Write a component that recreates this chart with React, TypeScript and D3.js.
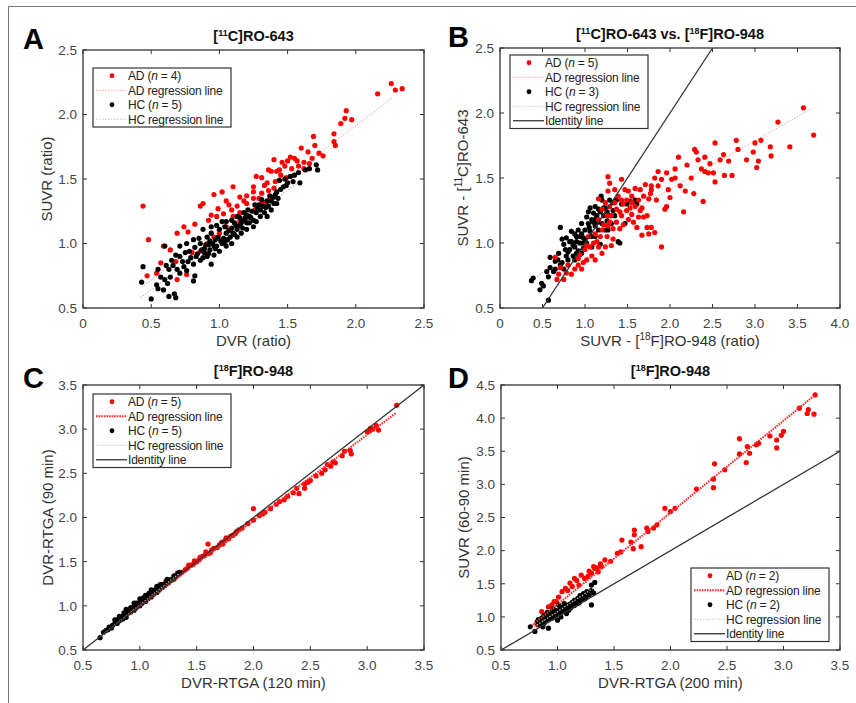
import React from "react";
import * as d3 from "d3";

type P = [number, number];

const FONT = "'Liberation Sans', Arial, Helvetica, sans-serif";

// ---------- Panel A : [11C]RO-643, SUVR vs DVR ----------
const aAD: P[] = [[2.26,2.24],[2.29,2.19],[2.34,2.2],[2.16,2.16],[1.93,2.03],[1.92,1.97],[1.97,1.96],[1.89,1.93],[1.84,1.85],[1.84,1.79],[1.85,1.76],[1.69,1.83],[1.7,1.76],[1.65,1.71],[1.6,1.74],[1.73,1.7],[1.55,1.66],[1.52,1.67],[1.5,1.64],[1.46,1.63],[1.4,1.65],[1.36,1.57],[1.38,1.56],[1.42,1.56],[1.44,1.57],[1.27,1.52],[1.31,1.51],[1.35,1.47],[1.4,1.43],[1.25,1.44],[1.1,1.44],[1.02,1.4],[0.96,1.38],[1.05,1.33],[1.15,1.36],[1.2,1.37],[1.25,1.4],[1.31,1.39],[0.86,1.29],[0.88,1.31],[0.94,1.22],[0.98,1.21],[1.03,1.23],[1.09,1.26],[1.13,1.29],[0.74,1.13],[0.77,1.09],[0.69,1.08],[0.82,1.15],[0.44,1.29],[0.48,1.03],[0.59,0.98],[0.64,0.95],[0.68,0.86],[0.57,0.85],[0.54,0.77],[0.47,0.75],[0.69,0.72],[0.76,0.76],[0.91,1.0],[0.96,1.05],[1.0,1.08],[1.05,1.13],[1.15,1.17],[1.2,1.2],[1.26,1.26],[1.31,1.31],[1.34,1.32],[1.37,1.35],[1.25,1.35],[1.2,1.31],[1.36,1.41],[1.15,1.24],[1.1,1.21],[1.44,1.49],[1.49,1.51],[1.58,1.6],[1.62,1.63],[1.68,1.66],[0.8,0.93],[0.86,0.94],[1.45,1.53],[1.53,1.58],[1.57,1.64],[1.62,1.58],[1.33,1.45],[1.18,1.33],[1.07,1.3],[0.99,1.27],[0.92,1.18],[1.29,1.35],[1.41,1.48],[1.48,1.6],[1.66,1.62],[1.76,1.68]];
const aHC: P[] = [[0.43,0.7],[0.44,0.82],[0.5,0.57],[0.55,0.65],[0.55,0.8],[0.54,0.68],[0.59,0.64],[0.63,0.59],[0.68,0.58],[0.67,0.61],[0.64,0.74],[0.62,0.69],[0.63,0.8],[0.66,0.83],[0.61,0.83],[0.6,0.98],[0.65,0.87],[0.71,0.77],[0.74,0.82],[0.76,0.79],[0.81,0.71],[0.82,0.75],[0.71,0.9],[0.75,0.93],[0.76,1.0],[0.81,0.84],[0.83,0.9],[0.86,0.87],[0.91,0.9],[0.94,0.84],[0.82,0.97],[0.86,1.0],[0.89,0.96],[0.93,0.95],[0.96,0.91],[0.98,0.98],[1.02,1.0],[0.91,1.05],[0.94,1.08],[0.99,1.05],[1.03,1.04],[1.05,1.08],[1.08,1.05],[1.0,1.11],[1.04,1.13],[1.09,1.12],[1.13,1.11],[1.11,1.16],[1.15,1.14],[1.18,1.18],[1.2,1.16],[1.22,1.21],[1.25,1.18],[1.27,1.24],[1.3,1.26],[1.32,1.29],[1.33,1.24],[1.35,1.33],[1.37,1.37],[1.4,1.36],[1.42,1.4],[1.43,1.35],[1.44,1.49],[1.48,1.5],[1.52,1.52],[1.55,1.53],[1.58,1.55],[1.59,1.47],[1.63,1.57],[1.66,1.58],[1.71,1.61],[1.72,1.57],[1.31,1.34],[1.26,1.3],[1.21,1.26],[1.18,1.24],[1.13,1.21],[1.09,1.18],[1.05,1.17],[1.15,1.2],[1.2,1.22],[1.22,1.16],[1.27,1.17],[1.16,1.08],[1.13,1.05],[1.09,1.0],[1.05,0.98],[1.0,0.94],[0.97,1.03],[0.93,1.02],[0.88,1.11],[0.85,1.04],[0.81,1.03],[0.78,0.94],[0.77,0.86],[0.68,0.91],[0.71,0.98],[1.35,1.21],[1.38,1.26],[1.42,1.31],[1.47,1.44],[1.49,1.45],[1.54,1.48],[0.94,1.13],[0.98,1.14],[1.02,1.17],[0.87,0.95],[0.92,0.99],[1.25,1.13],[1.2,1.11],[1.3,1.21],[1.36,1.29],[1.4,1.31],[0.84,0.92],[0.89,0.93],[0.9,0.99],[0.95,1.0],[0.97,0.96],[1.01,1.02],[1.04,1.01],[1.07,1.1],[1.1,1.08],[1.12,1.14],[1.16,1.16],[1.19,1.2],[1.23,1.2],[1.24,1.25],[1.28,1.27],[1.29,1.3],[1.34,1.28],[1.38,1.33],[1.41,1.38],[1.45,1.42],[1.5,1.47],[0.79,0.89],[0.73,0.86],[0.69,0.8],[0.6,0.72],[0.57,0.74],[1.06,1.03],[1.11,1.07],[1.17,1.12],[0.96,0.98],[0.92,0.92],[0.88,0.89]];
const aRegAD: P[] = [[0.43,0.66],[2.27,2.13]];
const aRegHC: P[] = [[0.42,0.58],[1.6,1.49]];
const aXTicks = [0, 0.5, 1, 1.5, 2, 2.5];
const aYTicks = [0.5, 1, 1.5, 2, 2.5];

// ---------- Panel B : [11C]RO-643 vs [18F]RO-948 ----------
const bAD: P[] = [[3.57,2.04],[3.69,1.83],[3.27,1.93],[3.41,1.74],[3.18,1.74],[3.19,1.67],[3.07,1.79],[3.0,1.77],[2.98,1.7],[3.04,1.63],[3.02,1.58],[2.9,1.64],[2.78,1.79],[2.8,1.72],[2.69,1.63],[2.73,1.52],[2.63,1.68],[2.59,1.64],[2.53,1.77],[2.47,1.61],[2.41,1.66],[2.37,1.57],[2.31,1.7],[2.33,1.64],[2.29,1.72],[2.41,1.55],[2.45,1.54],[2.51,1.54],[2.64,1.52],[2.53,1.47],[2.39,1.32],[2.28,1.38],[2.18,1.4],[2.16,1.24],[2.1,1.66],[2.06,1.57],[2.06,1.5],[2.12,1.44],[2.02,1.49],[1.96,1.54],[1.98,1.41],[1.9,1.49],[1.86,1.55],[1.82,1.5],[1.78,1.44],[1.77,1.38],[1.86,1.44],[1.71,1.45],[1.65,1.41],[1.69,1.36],[1.75,1.34],[1.78,1.41],[1.59,1.42],[1.55,1.36],[1.51,1.4],[1.43,1.49],[1.27,1.51],[1.29,1.46],[1.96,1.28],[1.94,1.26],[1.9,0.97],[1.82,1.08],[1.78,1.12],[1.73,1.12],[1.75,1.07],[1.67,1.06],[1.73,1.21],[1.63,1.2],[1.59,1.28],[1.55,1.22],[1.49,1.25],[1.43,1.33],[1.45,1.14],[1.41,1.11],[1.37,1.16],[1.33,1.03],[1.31,0.98],[1.24,0.97],[1.2,0.92],[1.16,0.97],[1.12,0.87],[1.08,0.9],[1.02,0.87],[0.96,0.8],[0.98,0.85],[0.92,0.83],[0.88,0.8],[0.84,0.76],[0.78,0.77],[0.8,0.83],[0.75,0.72],[0.69,0.76],[0.71,0.81],[0.67,0.72],[0.65,0.89],[1.35,1.31],[1.29,1.28],[1.24,1.31],[1.2,1.26],[1.26,1.21],[1.16,1.18],[1.2,1.1],[1.12,1.07],[1.14,1.01],[1.06,0.97],[1.0,0.95],[0.94,0.91],[1.04,1.05],[1.37,1.26],[1.49,1.33],[1.55,1.31],[1.63,1.33],[1.67,1.27],[1.69,1.2],[1.61,1.12],[1.51,1.18],[1.43,1.21],[1.31,1.21],[1.27,1.13],[1.33,1.11],[1.26,1.05],[1.18,1.05],[1.27,1.4],[1.35,1.41],[1.47,1.41],[1.16,1.34],[1.39,1.36],[1.45,1.3],[1.53,1.27],[1.41,1.24],[1.29,1.16],[1.22,1.14],[1.1,1.0],[1.02,0.98],[0.92,0.88],[1.57,1.16],[1.65,1.25],[1.84,1.33],[2.0,1.35],[2.25,1.5],[2.2,1.6]];
const bHC: P[] = [[0.57,0.56],[0.47,0.64],[0.37,0.71],[0.39,0.73],[0.49,0.69],[0.51,0.67],[0.57,0.74],[0.59,0.81],[0.65,0.8],[0.55,0.78],[0.71,1.12],[0.75,0.99],[0.78,0.9],[0.73,0.85],[0.69,0.92],[0.82,0.95],[0.84,1.01],[0.88,0.97],[0.9,1.05],[0.94,1.0],[0.98,1.04],[0.92,1.1],[1.0,1.1],[1.04,1.15],[0.96,1.15],[1.02,1.2],[1.08,1.18],[1.1,1.23],[1.06,1.27],[1.12,1.28],[1.16,1.26],[1.2,1.33],[1.19,1.36],[1.24,1.27],[1.29,1.33],[1.33,1.31],[1.37,1.33],[1.43,1.3],[1.49,1.3],[1.53,1.32],[1.61,1.3],[1.59,1.33],[1.12,1.13],[1.16,1.1],[1.06,1.09],[0.96,1.07],[0.88,1.07],[0.84,1.09],[0.78,1.04],[0.73,1.03],[0.77,0.95],[0.8,0.87],[0.86,0.9],[0.92,0.94],[0.98,0.96],[1.02,1.0],[1.08,1.05],[1.12,1.05],[1.2,1.15],[1.26,1.17],[1.29,1.21],[1.35,1.21],[1.41,1.0],[1.39,1.01],[1.47,1.15],[1.31,1.15],[1.24,1.1],[0.82,1.01],[0.9,1.01],[0.96,0.92],[0.88,0.87],[0.71,0.83],[0.65,0.86],[0.59,0.89],[0.75,0.8],[1.04,1.24],[1.14,1.21],[1.22,1.21],[1.27,1.1],[1.18,0.99],[1.08,0.97],[0.86,0.98],[0.94,1.05],[1.0,1.03],[1.05,1.12],[1.1,1.16],[1.15,1.16],[1.18,1.24],[1.22,1.27],[1.26,1.24],[0.8,0.93],[0.9,0.92],[0.97,1.0],[1.13,1.19],[1.33,1.25],[0.68,0.87],[0.63,0.78]];
const bRegAD: P[] = [[0.67,0.92],[3.68,2.04]];
const bRegHC: P[] = [[0.35,0.7],[1.62,1.33]];
const bIdentity: P[] = [[0.5,0.5],[2.5,2.5]];
const bXTicks = [0, 0.5, 1, 1.5, 2, 2.5, 3, 3.5, 4];
const bYTicks = [0.5, 1, 1.5, 2, 2.5];

// ---------- Panel C : [18F]RO-948 DVR 90 vs 120 min ----------
const cAD: P[] = [[0.95,0.98],[1.0,1.02],[1.02,1.06],[1.05,1.08],[1.08,1.1],[1.1,1.12],[1.12,1.15],[1.15,1.17],[1.18,1.2],[1.2,1.22],[1.22,1.24],[1.25,1.26],[1.27,1.3],[1.3,1.3],[1.32,1.33],[1.35,1.36],[1.37,1.38],[1.4,1.41],[1.42,1.43],[1.45,1.46],[1.47,1.47],[1.5,1.5],[1.52,1.52],[1.55,1.56],[1.57,1.57],[1.6,1.59],[1.6,1.7],[1.62,1.6],[1.65,1.65],[1.7,1.69],[1.72,1.72],[1.75,1.74],[1.78,1.76],[1.8,1.79],[1.82,1.8],[1.85,1.84],[1.9,1.88],[1.95,1.93],[2.0,1.97],[2.0,2.1],[2.05,2.02],[2.08,2.04],[2.1,2.06],[2.15,2.1],[2.2,2.15],[2.23,2.18],[2.27,2.2],[2.3,2.24],[2.35,2.28],[2.38,2.33],[2.4,2.27],[2.45,2.38],[2.48,2.4],[2.5,2.42],[2.45,2.33],[2.55,2.47],[2.6,2.5],[2.63,2.54],[2.65,2.6],[2.68,2.58],[2.7,2.63],[2.72,2.62],[2.78,2.7],[2.8,2.75],[2.85,2.76],[2.86,2.72],[3.0,2.97],[3.02,2.98],[3.03,3.01],[3.05,3.0],[3.1,2.99],[3.08,3.04],[3.26,3.27],[1.13,1.18],[1.23,1.28],[1.33,1.37],[1.43,1.46],[1.48,1.51],[1.53,1.55],[1.58,1.61],[1.63,1.63],[1.68,1.66],[1.73,1.7],[1.76,1.77],[1.84,1.82],[1.87,1.86]];
const cHC: P[] = [[0.65,0.64],[0.68,0.7],[0.7,0.72],[0.72,0.73],[0.73,0.76],[0.75,0.75],[0.76,0.78],[0.78,0.8],[0.8,0.8],[0.8,0.84],[0.82,0.83],[0.83,0.86],[0.85,0.85],[0.85,0.88],[0.87,0.9],[0.88,0.87],[0.9,0.92],[0.9,0.95],[0.92,0.93],[0.93,0.96],[0.95,0.95],[0.95,0.99],[0.97,0.98],[0.98,1.01],[1.0,1.0],[1.0,1.04],[1.02,1.03],[1.03,1.06],[1.05,1.05],[1.05,1.09],[1.07,1.08],[1.08,1.11],[1.1,1.1],[1.1,1.14],[1.12,1.13],[1.13,1.16],[1.15,1.15],[1.15,1.19],[1.17,1.18],[1.18,1.21],[1.2,1.21],[1.2,1.24],[1.22,1.23],[1.23,1.26],[1.25,1.26],[1.26,1.29],[1.28,1.29],[1.3,1.31],[1.3,1.34],[1.32,1.34],[1.34,1.37],[1.35,1.38],[0.88,0.96],[0.95,1.03],[1.0,1.08],[1.05,1.12],[1.1,1.18],[1.15,1.22],[0.78,0.84],[0.82,0.88],[0.86,0.92],[0.92,0.98],[0.97,1.03],[1.03,1.09],[1.08,1.14],[1.12,1.17],[1.18,1.24],[1.24,1.3]];
const cRegAD: P[] = [[0.9,0.9],[3.25,3.18]];
const cRegHC: P[] = [[0.65,0.65],[1.35,1.37]];
const cIdentity: P[] = [[0.5,0.5],[3.5,3.5]];
const cXTicks = [0.5, 1, 1.5, 2, 2.5, 3, 3.5];
const cYTicks = [0.5, 1, 1.5, 2, 2.5, 3, 3.5];

// ---------- Panel D : [18F]RO-948 SUVR vs DVR 200 min ----------
const dAD: P[] = [[3.28,4.35],[3.27,4.06],[3.21,4.07],[3.22,4.13],[3.14,4.15],[3.0,3.8],[2.98,3.74],[2.94,3.67],[2.94,3.55],[2.88,3.73],[2.78,3.62],[2.76,3.6],[2.7,3.47],[2.67,3.33],[2.68,3.57],[2.61,3.46],[2.61,3.69],[2.48,3.22],[2.39,3.31],[2.38,3.08],[2.38,2.95],[2.23,2.93],[2.04,2.64],[1.95,2.64],[2.0,2.59],[1.88,2.39],[1.85,2.34],[1.79,2.34],[1.8,2.29],[1.68,2.31],[1.68,2.24],[1.74,2.06],[1.67,2.03],[1.65,2.13],[1.57,2.16],[1.56,1.98],[1.53,1.96],[1.47,1.84],[1.39,1.76],[1.36,1.68],[1.33,1.73],[1.3,1.66],[1.32,1.76],[1.24,1.58],[1.21,1.63],[1.15,1.58],[1.11,1.51],[1.07,1.43],[1.01,1.3],[0.97,1.23],[0.92,1.15],[0.86,1.08],[0.82,0.88],[1.04,1.38],[1.19,1.48],[1.27,1.61],[1.13,1.46],[0.99,1.23],[0.89,1.03],[1.35,1.74],[1.38,1.8],[1.42,1.86],[1.28,1.69],[1.17,1.55],[1.09,1.4],[0.95,1.18]];
const dHC: P[] = [[0.76,0.85],[0.8,0.78],[0.82,0.92],[0.85,0.93],[0.86,0.98],[0.88,0.9],[0.9,1.0],[0.92,0.83],[0.9,0.95],[0.93,1.05],[0.95,0.98],[0.95,1.08],[0.97,1.02],[0.98,1.1],[1.0,1.05],[1.0,0.95],[1.02,1.12],[1.03,1.0],[1.05,1.08],[1.05,1.15],[1.07,1.12],[1.08,1.05],[1.1,1.18],[1.1,1.1],[1.12,1.14],[1.13,1.22],[1.15,1.17],[1.15,1.25],[1.17,1.2],[1.18,1.28],[1.2,1.24],[1.2,1.32],[1.22,1.27],[1.23,1.35],[1.25,1.3],[1.26,1.38],[1.28,1.33],[1.3,1.4],[1.32,1.36],[1.3,1.18],[0.88,1.02],[0.93,0.97],[0.98,1.0],[1.03,1.07],[1.08,1.16],[1.12,1.2],[0.84,0.88],[0.87,0.85],[0.96,1.12],[1.01,1.18],[1.06,1.2],[1.3,1.48],[1.33,1.52],[0.91,1.07],[0.99,1.06],[1.04,1.11],[1.09,1.13],[1.14,1.21],[1.19,1.21],[1.24,1.27],[0.83,0.96]];
const dRegAD: P[] = [[0.78,0.88],[3.28,4.35]];
const dRegHC: P[] = [[0.75,0.8],[1.33,1.45]];
const dIdentity: P[] = [[0.5,0.5],[3.5,3.5]];
const dXTicks = [0.5, 1, 1.5, 2, 2.5, 3, 3.5];
const dYTicks = [0.5, 1, 1.5, 2, 2.5, 3, 3.5, 4, 4.5];

const RED = "#ff0000";
const LIGHT_RED = "#f5a3a3";
const STRONG_RED = "#ff2a2a";
const LIGHT_GREY = "#c4c4c4";
const DARK = "#333333";

function fmt(v: number) {
  return v === 0 ? "0" : v.toFixed(1);
}

type LegendRow = { kind: "dot" | "line"; color: string; dash?: string; w?: number; label: React.ReactNode };

function Legend({ x, y, rows }: { x: number; y: number; rows: LegendRow[] }) {
  const rowH = 14.5;
  const w = 138;
  return (
    <g>
      <rect x={x} y={y} width={w} height={rows.length * rowH + 1} fill="#fff" stroke={DARK} strokeWidth={1.2} />
      {rows.map((r, i) => {
        const cy = y + rowH * (i + 0.5) + 0.5;
        return (
          <g key={i}>
            {r.kind === "dot" ? (
              <circle cx={x + 19} cy={cy} r={2.4} fill={r.color} />
            ) : (
              <line x1={x + 3} x2={x + 34} y1={cy} y2={cy} stroke={r.color} strokeWidth={r.w ?? 1} strokeDasharray={r.dash} />
            )}
            <text x={x + 35} y={cy} dy="0.36em" fontSize={12} fill="#222" fontFamily={FONT} letterSpacing={-0.2}>
              {r.label}
            </text>
          </g>
        );
      })}
    </g>
  );
}

const nLabel = (g: string, n: number) => (
  <>
    {g + " ("}
    <tspan fontStyle="italic">n</tspan>
    {" = " + n + ")"}
  </>
);

// superscript followed by the rest of the text
const supT = (s: string, after: string, size = 9, shift = 5) => (
  <>
    <tspan dy={-shift} fontSize={size}>{s}</tspan>
    <tspan dy={shift}>{after}</tspan>
  </>
);

type PanelProps = {
  left: number; right: number; top: number; bottom: number;
  xDomain: [number, number]; yDomain: [number, number];
  xTicks: number[]; yTicks: number[];
  ad: P[]; hc: P[]; regAD: P[]; regHC: P[]; identity?: P[];
  strong: boolean; hcFirst?: boolean;
  title: React.ReactNode; xLabel: React.ReactNode; yLabel: React.ReactNode;
  yLabelX: number; letter: string; letterX: number; letterY: number;
  legend: { x: number; y: number; rows: LegendRow[] };
};

function Panel(p: PanelProps) {
  const x = d3.scaleLinear().domain(p.xDomain).range([p.left, p.right]);
  const y = d3.scaleLinear().domain(p.yDomain).range([p.bottom, p.top]);
  const line = d3.line<P>().x((d) => x(d[0])).y((d) => y(d[1]));
  const tl = 4;
  const R = 2.6;
  const adDots = p.ad.map((d, i) => <circle key={"a" + i} cx={x(d[0])} cy={y(d[1])} r={R} fill={RED} />);
  const hcDots = p.hc.map((d, i) => <circle key={"h" + i} cx={x(d[0])} cy={y(d[1])} r={R} fill="#000" />);
  const regs = (
    <g>
      <path d={line(p.regHC) || ""} stroke={LIGHT_GREY} strokeWidth={1.2} strokeDasharray="1.5,1.5" fill="none" />
      <path
        d={line(p.regAD) || ""}
        stroke={p.strong ? STRONG_RED : LIGHT_RED}
        strokeWidth={p.strong ? 2 : 1}
        strokeDasharray={p.strong ? "1.6,1" : "1.5,1.5"}
        fill="none"
      />
    </g>
  );
  const midX = (p.left + p.right) / 2;
  const midY = (p.top + p.bottom) / 2;
  return (
    <g fontFamily={FONT}>
      <rect x={p.left} y={p.top} width={p.right - p.left} height={p.bottom - p.top} fill="#fff" />
      {!p.strong && regs}
      {p.hcFirst ? <>{hcDots}{adDots}</> : <>{adDots}{hcDots}</>}
      {p.strong && regs}
      {p.identity && <path d={line(p.identity) || ""} stroke={DARK} strokeWidth={1.3} fill="none" />}
      <rect x={p.left} y={p.top} width={p.right - p.left} height={p.bottom - p.top} fill="none" stroke={DARK} strokeWidth={1.3} />
      {p.xTicks.map((t) => (
        <g key={"xt" + t}>
          <line x1={x(t)} x2={x(t)} y1={p.bottom} y2={p.bottom - tl} stroke={DARK} />
          <line x1={x(t)} x2={x(t)} y1={p.top} y2={p.top + tl} stroke={DARK} />
          <text x={x(t)} y={p.bottom + 20} textAnchor="middle" fontSize={13.5} fill="#444">
            {fmt(t)}
          </text>
        </g>
      ))}
      {p.yTicks.map((t) => (
        <g key={"yt" + t}>
          <line x1={p.left} x2={p.left + tl} y1={y(t)} y2={y(t)} stroke={DARK} />
          <line x1={p.right} x2={p.right - tl} y1={y(t)} y2={y(t)} stroke={DARK} />
          <text x={p.left - 6} y={y(t)} dy="0.36em" textAnchor="end" fontSize={13.5} fill="#444">
            {fmt(t)}
          </text>
        </g>
      ))}
      <text x={midX} y={p.bottom + 38} textAnchor="middle" fontSize={15} fill="#333">
        {p.xLabel}
      </text>
      <text
        transform={`translate(${p.yLabelX},${midY}) rotate(-90)`}
        textAnchor="middle"
        fontSize={15}
        fill="#333"
      >
        {p.yLabel}
      </text>
      <text x={midX} y={p.top - 9} textAnchor="middle" fontSize={14.5} fontWeight="bold" fill="#111">
        {p.title}
      </text>
      <text x={p.letterX} y={p.letterY} fontSize={29} fontWeight="bold" fill="#000">
        {p.letter}
      </text>
      <Legend {...p.legend} />
    </g>
  );
}

export default function App() {
  const lightRows = (nAD: number, nHC: number, identity: boolean): LegendRow[] => {
    const rows: LegendRow[] = [
      { kind: "dot", color: RED, label: nLabel("AD", nAD) },
      { kind: "line", color: LIGHT_RED, dash: "1.5,1.5", label: "AD regression line" },
      { kind: "dot", color: "#000", label: nLabel("HC", nHC) },
      { kind: "line", color: LIGHT_GREY, dash: "1.5,1.5", label: "HC regression line" },
    ];
    if (identity) rows.push({ kind: "line", color: DARK, w: 1.3, label: "Identity line" });
    return rows;
  };
  const strongRows = (nAD: number, nHC: number): LegendRow[] => [
    { kind: "dot", color: RED, label: nLabel("AD", nAD) },
    { kind: "line", color: STRONG_RED, dash: "1.6,1", w: 2, label: "AD regression line" },
    { kind: "dot", color: "#000", label: nLabel("HC", nHC) },
    { kind: "line", color: LIGHT_GREY, dash: "1.5,1.5", w: 1.2, label: "HC regression line" },
    { kind: "line", color: DARK, w: 1.3, label: "Identity line" },
  ];

  return (
    <svg width={856} height={703} style={{ position: "absolute", left: 0, top: 0, background: "#fff" }}>
      <rect x={0} y={0} width={856} height={703} fill="#fff" />
      <path d="M8.5,703 V6.5 H856" stroke="#777" strokeWidth={1} fill="none" />

      <Panel
        left={83} right={424} top={50} bottom={308}
        xDomain={[0, 2.5]} yDomain={[0.5, 2.5]}
        xTicks={aXTicks} yTicks={aYTicks}
        ad={aAD} hc={aHC} regAD={aRegAD} regHC={aRegHC}
        strong={false}
        title={<>{"["}{supT("11", "C]RO-643")}</>}
        xLabel="DVR (ratio)" yLabel="SUVR (ratio)" yLabelX={52}
        letter="A" letterX={23} letterY={49}
        legend={{ x: 93, y: 68, rows: lightRows(4, 5, false) }}
      />
      <Panel
        left={500} right={840} top={48} bottom={308}
        xDomain={[0, 4]} yDomain={[0.5, 2.5]}
        xTicks={bXTicks} yTicks={bYTicks}
        ad={bAD} hc={bHC} regAD={bRegAD} regHC={bRegHC} identity={bIdentity}
        strong={false} hcFirst={true}
        title={<>{"["}{supT("11", "C]RO-643 vs. [")}{supT("18", "F]RO-948")}</>}
        xLabel={<>{"SUVR - ["}{supT("18", "F]RO-948 (ratio)", 10, 6)}</>}
        yLabel={<>{"SUVR - ["}{supT("11", "C]RO-643", 10, 6)}</>}
        yLabelX={468}
        letter="B" letterX={448} letterY={47}
        legend={{ x: 510, y: 55, rows: lightRows(5, 3, true) }}
      />
      <Panel
        left={83} right={424} top={385} bottom={650}
        xDomain={[0.5, 3.5]} yDomain={[0.5, 3.5]}
        xTicks={cXTicks} yTicks={cYTicks}
        ad={cAD} hc={cHC} regAD={cRegAD} regHC={cRegHC} identity={cIdentity}
        strong={true}
        title={<>{"["}{supT("18", "F]RO-948")}</>}
        xLabel="DVR-RTGA (120 min)" yLabel="DVR-RTGA (90 min)" yLabelX={53}
        letter="C" letterX={23} letterY={388}
        legend={{ x: 93, y: 394, rows: strongRows(5, 5) }}
      />
      <Panel
        left={501} right={840} top={385} bottom={650}
        xDomain={[0.5, 3.5]} yDomain={[0.5, 4.5]}
        xTicks={dXTicks} yTicks={dYTicks}
        ad={dAD} hc={dHC} regAD={dRegAD} regHC={dRegHC} identity={dIdentity}
        strong={true}
        title={<>{"["}{supT("18", "F]RO-948")}</>}
        xLabel="DVR-RTGA (200 min)" yLabel="SUVR (60-90 min)" yLabelX={469}
        letter="D" letterX={448} letterY={388}
        legend={{ x: 691, y: 568, rows: strongRows(2, 2) }}
      />
    </svg>
  );
}
